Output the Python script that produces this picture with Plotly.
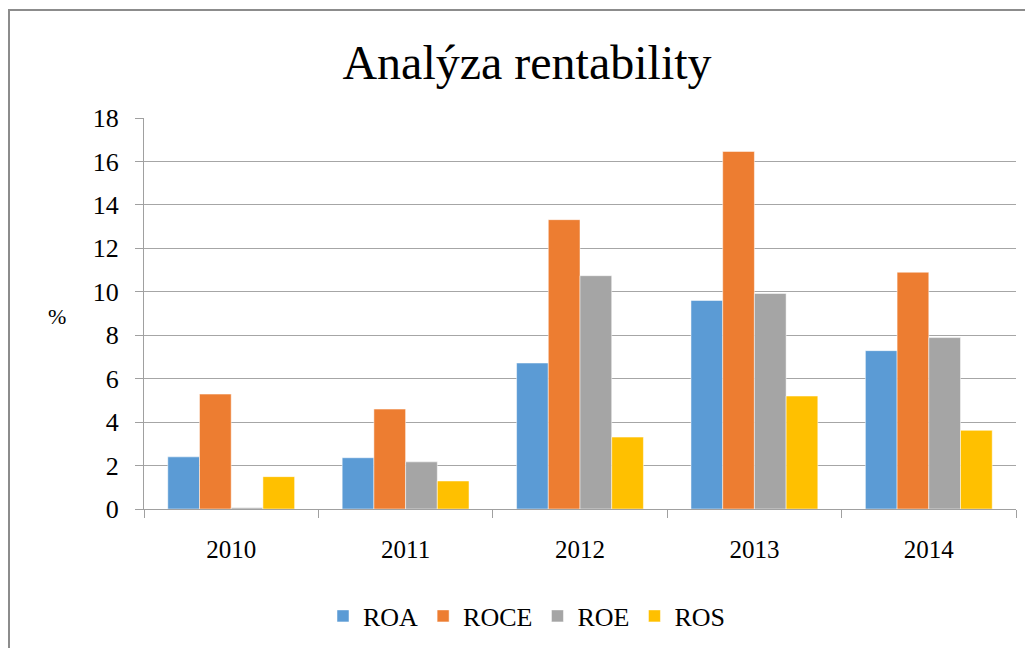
import plotly.graph_objects as go

years = ["2010", "2011", "2012", "2013", "2014"]
roa = [2.40, 2.36, 6.72, 9.60, 7.29]
roce = [5.29, 4.60, 13.32, 16.46, 10.90]
roe = [0.06, 2.17, 10.74, 9.92, 7.89]
ros = [1.49, 1.29, 3.31, 5.20, 3.62]

series = [("ROA", roa, "#5B9BD5"), ("ROCE", roce, "#ED7D31"),
          ("ROE", roe, "#A5A5A5"), ("ROS", ros, "#FFC000")]

fig = go.Figure()
for name, vals, col in series:
    fig.add_trace(go.Bar(x=years, y=vals, name=name,
                         marker=dict(color=col, line=dict(color="white", width=0.5))))

# page has an 8px body margin; positions below compensate for it
font = "Liberation Serif, Times New Roman, serif"
fig.update_layout(
    width=1033, height=648,
    margin=dict(l=136, r=25, t=110, b=147, autoexpand=False),
    paper_bgcolor="white", plot_bgcolor="white",
    barmode="group", bargap=0.2727, bargroupgap=0,
    font=dict(family=font, size=25, color="black"),
    title=dict(text="Analýza rentability", x=519 / 1033, xanchor="center",
               y=1 - 54 / 648, yanchor="middle", yref="container",
               font=dict(family=font, size=48, color="black")),
    legend=dict(orientation="h", x=(527 - 144) / 872, xanchor="center",
                y=-(616 - 509) / 391, yanchor="middle",
                font=dict(family=font, size=26, color="black"), itemwidth=30,
                traceorder="normal"),
    showlegend=True,
)
fig.update_xaxes(showline=True, linecolor="#A0A0A0", linewidth=1,
                 ticks="outside", tickson="boundaries", ticklen=8,
                 tickcolor="#A0A0A0", ticklabelstandoff=18, tickangle=0,
                 tickfont=dict(family=font, size=25, color="black"),
                 showgrid=False)
fig.update_yaxes(range=[0, 18], dtick=2, showline=True, linecolor="#A0A0A0",
                 linewidth=1, ticks="outside", ticklen=8, tickcolor="#A0A0A0",
                 tickfont=dict(family=font, size=26, color="black"),
                 showgrid=True, gridcolor="#A6A6A6", gridwidth=1,
                 zeroline=False, ticklabelstandoff=11)

fig.add_annotation(text="%", xref="paper", yref="paper",
                   x=(57 - 144) / 872, y=(509 - 316) / 391,
                   showarrow=False, font=dict(family=font, size=22, color="black"),
                   xanchor="center", yanchor="middle")

fig.add_shape(type="rect", xref="paper", yref="paper",
              x0=(9 - 144) / 872, x1=(1045 - 144) / 872,
              y0=(509 - 665) / 391, y1=(509 - 10) / 391,
              line=dict(color="#8C8C8C", width=2), layer="below")

fig.write_html("out.html", config={"displayModeBar": False})
